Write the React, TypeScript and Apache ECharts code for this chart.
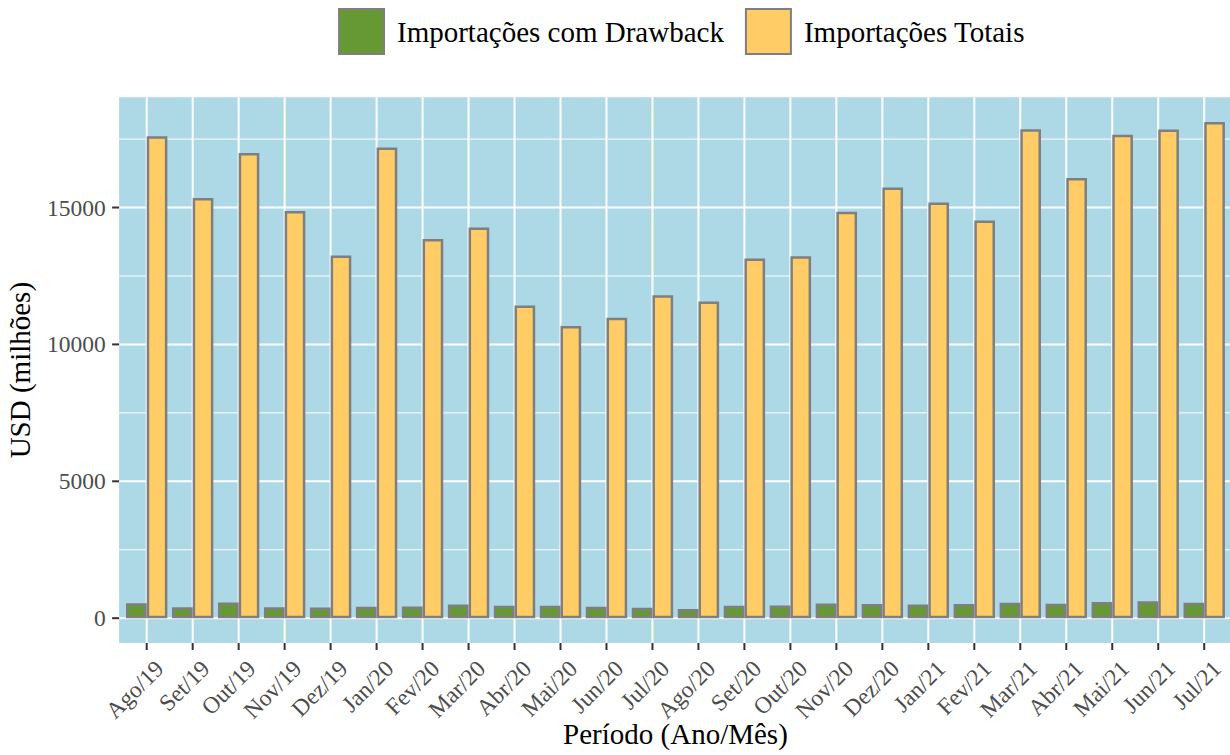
import { useEffect, useRef } from "react";
import * as echarts from "echarts";

const months = [
  "Ago/19", "Set/19", "Out/19", "Nov/19", "Dez/19", "Jan/20", "Fev/20", "Mar/20",
  "Abr/20", "Mai/20", "Jun/20", "Jul/20", "Ago/20", "Set/20", "Out/20", "Nov/20",
  "Dez/20", "Jan/21", "Fev/21", "Mar/21", "Abr/21", "Mai/21", "Jun/21", "Jul/21",
];

const importacoesDrawback = [
  545, 402, 575, 402, 390, 415, 428, 504,
  453, 453, 415, 378, 340, 453, 466, 541,
  516, 504, 516, 567, 529, 592, 617, 567,
];

const importacoesTotais = [
  17600, 15350, 16990, 14870, 13250, 17190, 13850, 14270,
  11420, 10670, 10970, 11800, 11570, 13140, 13220, 14850,
  15730, 15180, 14530, 17860, 16080, 17660, 17850, 18120,
];

const yMajorTicks = [0, 5000, 10000, 15000];
const yMinorTicks = [2500, 7500, 12500, 17500];

const seriesNames = ["Importações com Drawback", "Importações Totais"];

export default function App() {
  const ref = useRef<HTMLDivElement>(null);

  useEffect(() => {
    if (!ref.current) return;
    const chart = echarts.init(ref.current, null, { renderer: "svg" });
    const font = "'Liberation Serif', 'Times New Roman', serif";
    const dataMax = Math.max(...importacoesTotais, ...importacoesDrawback);
    const yMin = -0.05 * dataMax;
    const yMax = 1.05 * dataMax;
    const n = months.length;

    const renderPanel = (_params: any, api: any) => {
      const first = api.coord([0, 0]);
      const last = api.coord([n - 1, 0]);
      const step = (last[0] - first[0]) / (n - 1);
      const left = first[0] - 0.6 * step;
      const right = last[0] + 0.6 * step;
      const top = api.coord([0, yMax])[1];
      const bottom = api.coord([0, yMin])[1];
      const children: any[] = [];
      children.push({
        type: "rect",
        shape: { x: left, y: top, width: right - left, height: bottom - top },
        style: { fill: "#ADD8E6" },
      });
      yMinorTicks.forEach((v) => {
        const y = api.coord([0, v])[1];
        children.push({
          type: "line",
          shape: { x1: left, y1: y, x2: right, y2: y },
          style: { stroke: "#FFFFFF", lineWidth: 1 },
        });
      });
      yMajorTicks.forEach((v) => {
        const y = api.coord([0, v])[1];
        children.push({
          type: "line",
          shape: { x1: left, y1: y, x2: right, y2: y },
          style: { stroke: "#FFFFFF", lineWidth: 2 },
        });
        children.push({
          type: "line",
          shape: { x1: left - 7, y1: y, x2: left, y2: y },
          style: { stroke: "#333333", lineWidth: 2 },
        });
      });
      months.forEach((_m, i) => {
        const x = api.coord([i, 0])[0];
        children.push({
          type: "line",
          shape: { x1: x, y1: top, x2: x, y2: bottom },
          style: { stroke: "#FFFFFF", lineWidth: 2 },
        });
        children.push({
          type: "line",
          shape: { x1: x, y1: bottom, x2: x, y2: bottom + 7 },
          style: { stroke: "#333333", lineWidth: 2 },
        });
      });
      return { type: "group", children };
    };

    chart.setOption({
      animation: false,
      textStyle: { fontFamily: font },
      legend: {
        data: seriesNames,
        top: 8,
        left: 338,
        padding: 0,
        itemWidth: 45,
        itemHeight: 45,
        itemGap: 21,
        icon: "rect",
        textStyle: { fontSize: 29, color: "#000000", fontFamily: font, padding: [0, 0, 0, 8] },
      },
      grid: {
        left: 123.7,
        right: 2.8,
        top: 97.3,
        bottom: 112,
        containLabel: false,
        outerBoundsMode: "none",
      },
      xAxis: {
        type: "category",
        data: months,
        boundaryGap: true,
        axisLine: { show: false },
        axisTick: { show: false },
        splitLine: { show: false },
        axisLabel: {
          interval: 0,
          rotate: 45,
          align: "right",
          verticalAlign: "top",
          margin: 13,
          padding: [3, -3, 0, 0],
          fontSize: 23.5,
          color: "#4D4D4D",
          fontFamily: font,
        },
        name: "Período (Ano/Mês)",
        nameLocation: "middle",
        nameGap: 76,
        nameMoveOverlap: false,
        nameTextStyle: { fontSize: 29, color: "#000000", fontFamily: font },
      },
      yAxis: {
        type: "value",
        min: yMin,
        max: yMax,
        splitNumber: 4,
        axisLine: { show: false },
        axisTick: { show: false },
        splitLine: { show: false },
        axisLabel: {
          formatter: (v: number) => (yMajorTicks.includes(v) ? String(v) : ""),
          margin: 18,
          fontSize: 23.5,
          color: "#4D4D4D",
          fontFamily: font,
        },
        name: "USD (milhões)",
        nameLocation: "middle",
        nameGap: 89,
        nameMoveOverlap: false,
        nameTextStyle: { fontSize: 29, color: "#000000", fontFamily: font },
      },
      series: [
        {
          type: "custom",
          z: 1,
          silent: true,
          clip: false,
          data: [[0, 0]],
          renderItem: renderPanel,
        },
        {
          type: "bar",
          name: seriesNames[0],
          data: importacoesDrawback,
          barWidth: "45%",
          barGap: "0%",
          z: 2,
          itemStyle: { color: "#669933", borderColor: "#7F7F7F", borderWidth: 2.5 },
        },
        {
          type: "bar",
          name: seriesNames[1],
          data: importacoesTotais,
          barWidth: "45%",
          barGap: "0%",
          z: 2,
          itemStyle: { color: "#FFCC66", borderColor: "#7F7F7F", borderWidth: 2.5 },
        },
      ],
    });

    return () => {
      chart.dispose();
    };
  }, []);

  return (
    <div
      ref={ref}
      style={{ position: "absolute", left: 0, top: 0, width: 1230, height: 755 }}
    />
  );
}
